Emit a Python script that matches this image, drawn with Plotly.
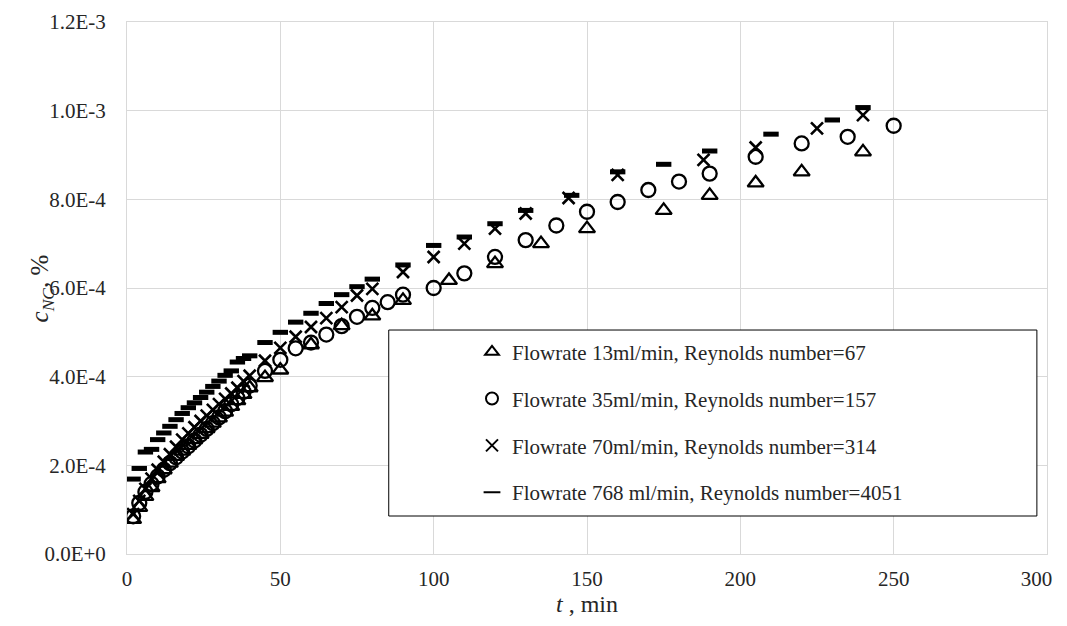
import plotly.graph_objects as go

# ---- data (t in min, c_NC in %) ----
t_13 = [2, 4, 6, 8, 10, 12, 14, 16, 18, 20, 22, 24, 26, 28, 30, 32, 34, 36, 38, 40,
        45, 50, 60, 70, 80, 90, 105, 120, 135, 150, 175, 190, 205, 220, 240]
c_13 = [0.78e-4, 1.05e-4, 1.3e-4, 1.5e-4, 1.7e-4, 1.9e-4, 2.05e-4, 2.2e-4, 2.32e-4, 2.45e-4,
        2.58e-4, 2.7e-4, 2.83e-4, 2.95e-4, 3.07e-4, 3.2e-4, 3.33e-4, 3.46e-4, 3.6e-4, 3.75e-4,
        3.98e-4, 4.15e-4, 4.72e-4, 5.15e-4, 5.37e-4, 5.72e-4, 6.17e-4, 6.55e-4, 7.0e-4, 7.34e-4,
        7.75e-4, 8.09e-4, 8.37e-4, 8.62e-4, 9.07e-4]

t_35 = [2, 4, 6, 8, 10, 12, 14, 16, 18, 20, 22, 24, 26, 28, 30, 32, 34, 36, 38, 40,
        45, 50, 55, 60, 65, 70, 75, 80, 85, 90, 100, 110, 120, 130, 140, 150, 160, 170,
        180, 190, 205, 220, 235, 250]
c_35 = [0.85e-4, 1.15e-4, 1.4e-4, 1.58e-4, 1.75e-4, 1.9e-4, 2.05e-4, 2.18e-4, 2.31e-4, 2.43e-4,
        2.56e-4, 2.69e-4, 2.82e-4, 2.95e-4, 3.08e-4, 3.22e-4, 3.38e-4, 3.52e-4, 3.66e-4, 3.8e-4,
        4.13e-4, 4.38e-4, 4.64e-4, 4.77e-4, 4.95e-4, 5.14e-4, 5.35e-4, 5.55e-4, 5.68e-4, 5.85e-4,
        6.0e-4, 6.33e-4, 6.7e-4, 7.08e-4, 7.41e-4, 7.72e-4, 7.94e-4, 8.21e-4, 8.4e-4, 8.58e-4,
        8.96e-4, 9.26e-4, 9.41e-4, 9.66e-4]

t_70 = [2, 4, 6, 8, 10, 12, 14, 16, 18, 20, 22, 24, 26, 28, 30, 32, 34, 36, 38, 40,
        45, 50, 55, 60, 65, 70, 75, 80, 90, 100, 110, 120, 130, 144, 160, 188, 205, 225, 240]
c_70 = [0.9e-4, 1.2e-4, 1.47e-4, 1.7e-4, 1.9e-4, 2.08e-4, 2.25e-4, 2.42e-4, 2.58e-4, 2.72e-4,
        2.86e-4, 3.0e-4, 3.12e-4, 3.25e-4, 3.38e-4, 3.5e-4, 3.62e-4, 3.75e-4, 3.9e-4, 4.02e-4,
        4.36e-4, 4.65e-4, 4.9e-4, 5.12e-4, 5.32e-4, 5.57e-4, 5.83e-4, 5.98e-4, 6.36e-4, 6.7e-4,
        7.0e-4, 7.34e-4, 7.68e-4, 8.03e-4, 8.55e-4, 8.89e-4, 9.17e-4, 9.6e-4, 9.9e-4]

t_768 = [2, 4, 6, 8, 10, 12, 14, 16, 18, 20, 22, 24, 26, 28, 30, 32, 34, 36, 38, 40,
         45, 50, 55, 60, 65, 70, 75, 80, 90, 100, 110, 120, 130, 145, 160, 175, 190, 210, 230, 240]
c_768 = [1.69e-4, 1.93e-4, 2.3e-4, 2.36e-4, 2.58e-4, 2.73e-4, 2.88e-4, 3.03e-4, 3.17e-4, 3.3e-4,
         3.41e-4, 3.53e-4, 3.65e-4, 3.78e-4, 3.9e-4, 4.03e-4, 4.13e-4, 4.33e-4, 4.41e-4, 4.47e-4,
         4.77e-4, 5.0e-4, 5.23e-4, 5.43e-4, 5.65e-4, 5.85e-4, 6.03e-4, 6.2e-4, 6.52e-4, 6.96e-4,
         7.15e-4, 7.45e-4, 7.75e-4, 8.09e-4, 8.62e-4, 8.79e-4, 9.09e-4, 9.47e-4, 9.79e-4, 1.007e-3]

series_names = [
    "Flowrate 13ml/min, Reynolds number=67",
    "Flowrate 35ml/min, Reynolds number=157",
    "Flowrate 70ml/min, Reynolds number=314",
    "Flowrate 768 ml/min, Reynolds number=4051",
]

y_tick_vals = [0, 2e-4, 4e-4, 6e-4, 8e-4, 1.0e-3, 1.2e-3]
y_tick_text = ["0.0E+0", "2.0E-4", "4.0E-4", "6.0E-4", "8.0E-4", "1.0E-3", "1.2E-3"]
x_tick_vals = [0, 50, 100, 150, 200, 250, 300]
x_tick_text = ["0", "50", "100", "150", "200", "250", "300"]

FONT = "Liberation Serif"
BLACK = "#000000"
TXT = "#262626"

# keep the last x label inside the visible window (pad it on the right)
x_tick_text_shown = list(x_tick_text)
x_tick_text_shown[-1] = x_tick_text_shown[-1] + "&nbsp;&nbsp;&nbsp;&nbsp;"

fig = go.Figure()
styles = [
    dict(symbol="triangle-up-open", size=14, line=dict(width=2.3, color=BLACK), color=BLACK),
    dict(symbol="circle-open", size=14, line=dict(width=2.3, color=BLACK), color=BLACK),
    dict(symbol="x-thin-open", size=12, line=dict(width=2.6, color=BLACK), color=BLACK),
    dict(symbol="line-ew-open", size=11, line=dict(width=5, color=BLACK), color=BLACK),
]
for i, (tx, cy) in enumerate([(t_13, c_13), (t_35, c_35), (t_70, c_70), (t_768, c_768)]):
    fig.add_trace(go.Scatter(
        x=tx, y=cy, mode="markers", name=series_names[i],
        marker=styles[i], legendgroup=f"g{i}",
    ))

# legend frame
fig.add_shape(type="rect", xref="paper", yref="paper",
              x0=0.2845, x1=0.989, y0=0.0714, y1=0.421,
              line=dict(color=BLACK, width=1), fillcolor="white", layer="above")

# y-axis title as annotation (sits over the tick-label column like the original)
fig.add_annotation(
    xref="paper", yref="paper", x=-0.093, y=0.5, xanchor="center", yanchor="middle",
    text="<i>c</i><sub><i>NC</i></sub>, %", textangle=-90, showarrow=False,
    font=dict(family=FONT, size=25, color=TXT),
)

fig.update_layout(
    width=1067, height=610,
    margin=dict(l=118.5, r=27.5, t=14, b=64),
    paper_bgcolor="white", plot_bgcolor="white",
    font=dict(family=FONT, size=21, color=TXT),
    showlegend=True,
    legend=dict(
        x=0.375, y=0.418, xanchor="left", yanchor="top",
        bgcolor="rgba(0,0,0,0)", borderwidth=0,
        font=dict(family=FONT, size=21, color=TXT),
        traceorder="grouped", tracegroupgap=16.5, itemsizing="constant",
    ),
    xaxis=dict(
        range=[0, 300], tickvals=x_tick_vals, ticktext=x_tick_text_shown,
        showgrid=True, gridcolor="#d9d9d9", gridwidth=1,
        zeroline=False, showline=True, linecolor="#d9d9d9", mirror=True, automargin=False,
        ticks="", ticklabelstandoff=6, tickfont=dict(family=FONT, size=21, color=TXT),
        title=dict(text="<i>t</i> , min", font=dict(family=FONT, size=24, color=TXT), standoff=4),
    ),
    yaxis=dict(
        range=[0, 1.2e-3], tickvals=y_tick_vals, ticktext=y_tick_text,
        showgrid=True, gridcolor="#d9d9d9", gridwidth=1,
        zeroline=False, showline=True, linecolor="#d9d9d9", mirror=True, automargin=False,
        ticks="", ticklabelstandoff=16, tickfont=dict(family=FONT, size=21, color=TXT),
    ),
)

fig.write_html("out.html")
